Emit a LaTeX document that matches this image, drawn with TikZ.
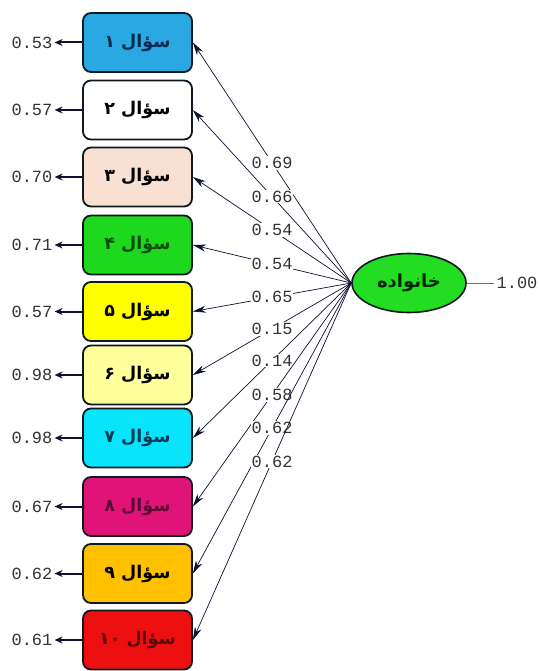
\documentclass[tikz,border=0pt]{standalone}
\usepackage{fontspec}
\usetikzlibrary{arrows.meta,shapes.geometric}
\TeXXeTstate=1
\newfontfamily\fa[Script=Arabic]{DejaVu Sans}
\newfontfamily\monofnt{Liberation Mono}
\definecolor{cA}{HTML}{2AA8E2}
\definecolor{cB}{HTML}{FFFFFF}
\definecolor{cC}{HTML}{F8E0D2}
\definecolor{cD}{HTML}{1ED81E}
\definecolor{cE}{HTML}{FFFF00}
\definecolor{cF}{HTML}{FFFF9C}
\definecolor{cG}{HTML}{08E4FA}
\definecolor{cH}{HTML}{E01478}
\definecolor{cI}{HTML}{FFC000}
\definecolor{cJ}{HTML}{EE1010}
\definecolor{tA}{HTML}{0A2850}
\definecolor{tD}{HTML}{0A4A0A}
\definecolor{tG}{HTML}{0A3A58}
\definecolor{tH}{HTML}{5A0A30}
\definecolor{tJ}{HTML}{5A0808}
\definecolor{edgec}{HTML}{101820}
\definecolor{linec}{HTML}{101030}
\definecolor{numc}{HTML}{333333}
\definecolor{famc}{HTML}{22DD22}
\tikzset{
  qbox/.style={draw=edgec, line width=1.8pt, rounded corners=8pt,
    minimum width=109pt, minimum height=59pt, inner sep=0pt,
    font=\fa\bfseries\fontsize{17.5}{17.5}\selectfont},
  fam/.style={ellipse, draw=edgec, line width=1.6pt, fill=famc,
    minimum width=114pt, minimum height=59pt, inner sep=0pt,
    text=black!85!green, font=\fa\bfseries\fontsize{18}{18}\selectfont},
  lbl/.style={fill=white, inner sep=1pt, text=numc,
    font=\monofnt\fontsize{17}{17}\selectfont},
  elbl/.style={inner sep=2pt, text=numc,
    font=\monofnt\fontsize{17}{17}\selectfont},
  load/.style={draw=linec, line width=0.7pt,
    -{Stealth[length=13pt,width=7pt]}},
  err/.style={draw=linec, line width=2pt,
    -{Stealth[length=8pt,width=7pt]}},
}
\begin{document}
\begin{tikzpicture}[x=1pt,y=-1pt]
\useasboundingbox (0,0) rectangle (540,671);
\fill[white] (0,0) rectangle (540,671);
% boxes
\node[qbox, fill=cA, text=tA] (b1) at (137.5,42.5) {\beginR سؤال ۱\endR};
\node[qbox, fill=cB, text=black] (b2) at (137.5,110) {\beginR سؤال ۲\endR};
\node[qbox, fill=cC, text=black] (b3) at (137.5,177) {\beginR سؤال ۳\endR};
\node[qbox, fill=cD, text=tD] (b4) at (137.5,245) {\beginR سؤال ۴\endR};
\node[qbox, fill=cE, text=black] (b5) at (137.5,311.5) {\beginR سؤال ۵\endR};
\node[qbox, fill=cF, text=black] (b6) at (137.5,375) {\beginR سؤال ۶\endR};
\node[qbox, fill=cG, text=tG] (b7) at (137.5,438) {\beginR سؤال ۷\endR};
\node[qbox, fill=cH, text=tH] (b8) at (137.5,506.5) {\beginR سؤال ۸\endR};
\node[qbox, fill=cI, text=black] (b9) at (137.5,573.5) {\beginR سؤال ۹\endR};
\node[qbox, fill=cJ, text=tJ] (b10) at (137.5,640) {\beginR سؤال ۱۰\endR};
% latent factor
\node[fam] (f) at (409,283) {\beginR خانواده\endR};
\node[elbl] (v) at (517,283) {1.00};
\draw[numc!70, line width=0.6pt] (f.east) -- (v.west);
% error labels
\node[elbl] (e1) at (32,42.5) {0.53};
\node[elbl] (e2) at (32,110) {0.57};
\node[elbl] (e3) at (32,177) {0.70};
\node[elbl] (e4) at (32,245) {0.71};
\node[elbl] (e5) at (32,311.5) {0.57};
\node[elbl] (e6) at (32,375) {0.98};
\node[elbl] (e7) at (32,438) {0.98};
\node[elbl] (e8) at (32,506.5) {0.67};
\node[elbl] (e9) at (32,573.5) {0.62};
\node[elbl] (e10) at (32,640) {0.61};
\foreach \i in {1,...,10} \draw[err] (b\i.west) -- (e\i.east);
% loadings
\draw[load] (f.west) -- (b1.east) node[lbl,pos=.5] {0.69};
\draw[load] (f.west) -- (b2.east) node[lbl,pos=.5] {0.66};
\draw[load] (f.west) -- (b3.east) node[lbl,pos=.5] {0.54};
\draw[load] (f.west) -- (b4.east) node[lbl,pos=.5] {0.54};
\draw[load] (f.west) -- (b5.east) node[lbl,pos=.5] {0.65};
\draw[load] (f.west) -- (b6.east) node[lbl,pos=.5] {0.15};
\draw[load] (f.west) -- (b7.east) node[lbl,pos=.5] {0.14};
\draw[load] (f.west) -- (b8.east) node[lbl,pos=.5] {0.58};
\draw[load] (f.west) -- (b9.east) node[lbl,pos=.5] {0.62};
\draw[load] (f.west) -- (b10.east) node[lbl,pos=.5] {0.62};
\end{tikzpicture}
\end{document}
